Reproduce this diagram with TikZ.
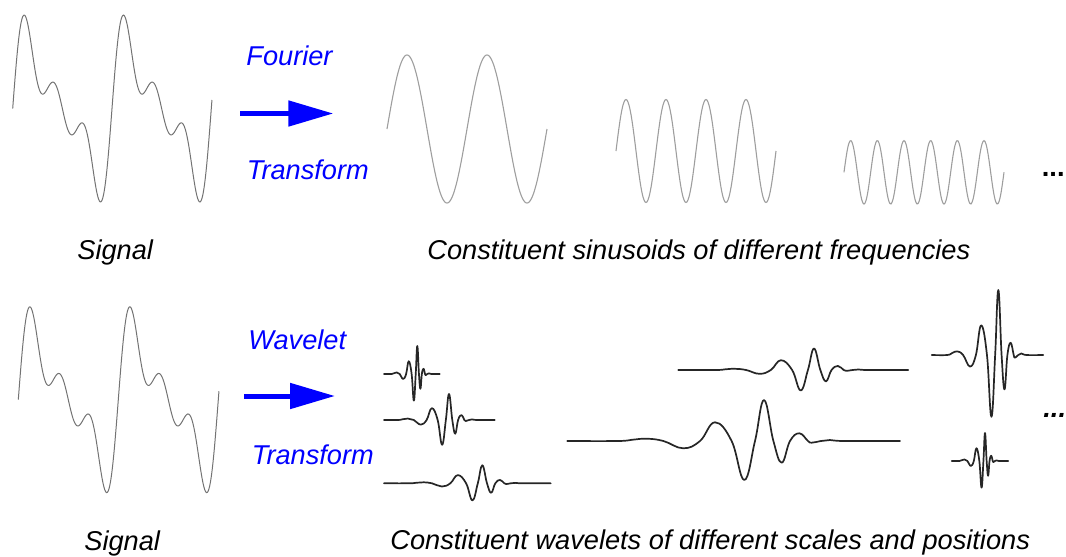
\documentclass[tikz,border=0pt]{standalone}
\usepackage{fontspec}
\setmainfont{Liberation Sans}
\usetikzlibrary{arrows.meta}

\definecolor{sigcol}{gray}{0.45}
\definecolor{sincol}{gray}{0.62}
\definecolor{ftblue}{RGB}{0,0,255}

\tikzset{
  declare function={sig(\t)=sin(\t r)+0.6354*sin(2*\t r)+0.5306*sin(3*\t r);},
  caption/.style={font=\fontsize{13.6pt}{16pt}\selectfont\itshape, inner sep=0pt, anchor=base west},
  bluelabel/.style={caption, text=ftblue},
  dots/.style={font=\fontsize{13.6pt}{16pt}\selectfont\bfseries, inner sep=0pt, anchor=base west},
  signal/.style={sigcol, line width=0.5pt},
  sinus/.style={sincol, line width=0.55pt},
  wavelet/.style={black!85, line width=0.85pt, line cap=round, line join=round},
  bigarrow/.style={ftblue, line width=2.5pt, -{Triangle[length=22.5pt, width=12.5pt]}},
}

\begin{document}
\begin{tikzpicture}[x=0.5pt, y=-0.5pt]
\useasboundingbox (0,0) rectangle (1066,557);

% Fourier transform row
\draw[signal] plot[domain=0:12.61, samples=240, smooth, variable=\t]
  ({12.7+\t*99.3/(2*pi)}, {108.5-54*sig(\t)});

\draw node[bluelabel] (fourier) at (246,65.5) {Fourier};
\draw node[bluelabel] (ft-trans) at (246.5,179.5) {Transform};
\coordinate (ft-tail) at (240,113.5);
\coordinate (ft-head) at (333.3,113.5);
\draw[bigarrow] (ft-tail) -- (ft-head);

\foreach \xs/\yc/\amp/\n in {387/129/74/2, 616/151/51.5/4, 844/172.3/31.7/6}
  \draw[sinus] plot[domain=0:160, samples=161, smooth, variable=\t]
    ({\xs+\t}, {\yc-\amp*sin(\n*2.25*\t)});

\draw node[dots] (sin-more) at (1041.5,176) {...};
\draw node[caption] (sig-top) at (77,259.5) {Signal};
\draw node[caption] (sin-cap) at (427,259.5) {Constituent sinusoids of different frequencies};

% Wavelet transform row
\draw[signal] plot[domain=0:12.61, samples=240, smooth, variable=\t]
  ({18.3+\t*100/(2*pi)}, {399.7-53.7*sig(\t)});

\draw node[bluelabel] (wavelet) at (248,349) {Wavelet};
\draw node[bluelabel] (wt-trans) at (251.5,464.5) {Transform};
\coordinate (wt-tail) at (244.3,396);
\coordinate (wt-head) at (335,396);
\draw[bigarrow] (wt-tail) -- (wt-head);

% left end / right end / baseline / main peak / width / height
\foreach \xl/\xr/\yb/\xp/\w/\h in {384/439.7/374/417.3/3.5/28,
    384/494.7/420/449/7/26, 384/550.7/483.3/482.3/10/18,
    678.3/908.3/370/814/13.5/21.5, 567.3/900/441/764/20/41,
    931.7/1043.3/355/998.3/7/65, 951.7/1008.3/461/985/3.5/28}
{
  \begin{scope}[shift={(\xp,\yb)}, xscale=\w, yscale=-\h]
    \draw[wavelet] plot[smooth, tension=0.7] coordinates {
      ({(\xl-\xp)/\w},0) (-7.3,0) (-6.6,0.03) (-5.87,0.056) (-5.03,0)
      (-4.04,-0.178) (-3.2,0) (-2.45,0.456) (-1.62,0) (-0.985,-0.951)
      (-0.45,0) (0,1) (0.47,0) (0.885,-0.529) (1.3,0) (1.765,0.188)
      (2.2,0) (2.385,-0.041) (2.85,0) (3.3,0.024) (4,0) ({(\xr-\xp)/\w},0)};
  \end{scope}
}

\draw node[dots, font=\fontsize{13.6pt}{16pt}\selectfont\bfseries\itshape] (wav-more) at (1043,417) {...};
\draw node[caption] (sig-bot) at (84,550) {Signal};
\draw node[caption] (wav-cap) at (390,549.5) {Constituent wavelets of different scales and positions};
\end{tikzpicture}
\end{document}
